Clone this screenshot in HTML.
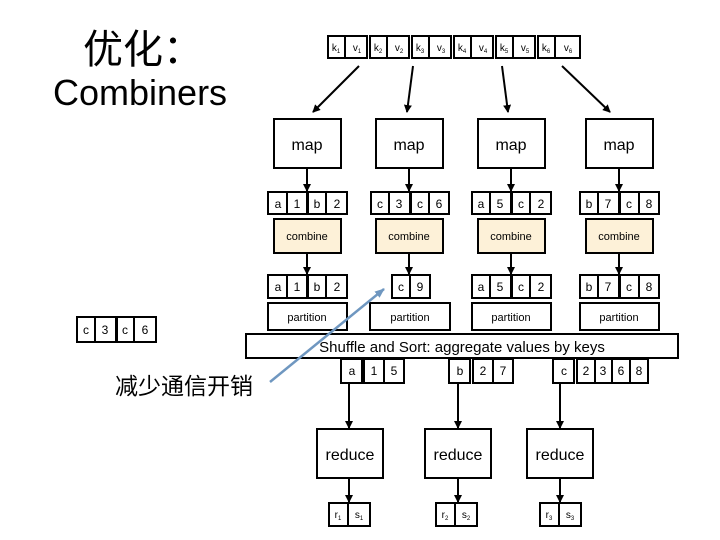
<!DOCTYPE html>
<html><head><meta charset="utf-8"><style>
html,body{margin:0;padding:0;background:#fff;width:720px;height:540px;overflow:hidden}
svg{display:block}
text{font-family:"Liberation Sans","Noto Sans CJK SC",sans-serif;fill:#000}
</style></head><body>
<svg width="720" height="540" viewBox="0 0 720 540" xmlns="http://www.w3.org/2000/svg">
<defs>
<marker id="ah" markerWidth="8" markerHeight="8" refX="7" refY="4" orient="auto" markerUnits="userSpaceOnUse">
<path d="M0,0 L8,4 L0,8 z" fill="#000"/></marker>
<marker id="bh" markerWidth="10" markerHeight="10" refX="9" refY="5" orient="auto" markerUnits="userSpaceOnUse">
<path d="M0,1 L10,5 L0,9 z" fill="#6f97c0"/></marker>
</defs>
<text x="83" y="63" font-size="40" font-family="Noto Sans CJK SC, sans-serif">优化：</text>
<text x="53" y="105" font-size="36">Combiners</text>
<g stroke="#000" stroke-width="2" fill="none">
<!-- top strip -->
<rect x="328" y="36" width="39" height="22"/><line x1="345" y1="36" x2="345" y2="58"/>
<rect x="370" y="36" width="39" height="22"/><line x1="387" y1="36" x2="387" y2="58"/>
<rect x="412" y="36" width="39" height="22"/><line x1="429" y1="36" x2="429" y2="58"/>
<rect x="454" y="36" width="39" height="22"/><line x1="471" y1="36" x2="471" y2="58"/>
<rect x="496" y="36" width="39" height="22"/><line x1="513" y1="36" x2="513" y2="58"/>
<rect x="538" y="36" width="42" height="22"/><line x1="555" y1="36" x2="555" y2="58"/>
<!-- input arrows -->
<line x1="359" y1="66" x2="313" y2="112" marker-end="url(#ah)"/>
<line x1="413" y1="66" x2="407" y2="112" marker-end="url(#ah)"/>
<line x1="502" y1="66" x2="508" y2="112" marker-end="url(#ah)"/>
<line x1="562" y1="66" x2="610" y2="112" marker-end="url(#ah)"/>
<!-- map boxes -->
<rect x="274" y="119" width="67" height="49"/>
<rect x="376" y="119" width="67" height="49"/>
<rect x="478" y="119" width="67" height="49"/>
<rect x="586" y="119" width="67" height="49"/>
<line x1="307" y1="168" x2="307" y2="191" marker-end="url(#ah)"/>
<line x1="409" y1="168" x2="409" y2="191" marker-end="url(#ah)"/>
<line x1="511" y1="168" x2="511" y2="191" marker-end="url(#ah)"/>
<line x1="619" y1="168" x2="619" y2="191" marker-end="url(#ah)"/>
<!-- row1 pairs -->
<rect x="268" y="192" width="39" height="22"/><line x1="287" y1="192" x2="287" y2="214"/>
<rect x="308" y="192" width="39" height="22"/><line x1="326" y1="192" x2="326" y2="214"/>
<rect x="371" y="192" width="39" height="22"/><line x1="389" y1="192" x2="389" y2="214"/>
<rect x="411" y="192" width="38" height="22"/><line x1="429" y1="192" x2="429" y2="214"/>
<rect x="472" y="192" width="39" height="22"/><line x1="490" y1="192" x2="490" y2="214"/>
<rect x="512" y="192" width="39" height="22"/><line x1="530" y1="192" x2="530" y2="214"/>
<rect x="580" y="192" width="39" height="22"/><line x1="598" y1="192" x2="598" y2="214"/>
<rect x="620" y="192" width="39" height="22"/><line x1="639" y1="192" x2="639" y2="214"/>
</g>
<!-- combine -->
<g stroke="#000" stroke-width="2" fill="#fdf1d8">
<rect x="274" y="219" width="67" height="34"/>
<rect x="376" y="219" width="67" height="34"/>
<rect x="478" y="219" width="67" height="34"/>
<rect x="586" y="219" width="67" height="34"/>
</g>
<g stroke="#000" stroke-width="2" fill="none">
<line x1="307" y1="253" x2="307" y2="274" marker-end="url(#ah)"/>
<line x1="409" y1="253" x2="409" y2="274" marker-end="url(#ah)"/>
<line x1="511" y1="253" x2="511" y2="274" marker-end="url(#ah)"/>
<line x1="619" y1="253" x2="619" y2="274" marker-end="url(#ah)"/>
<!-- row2 pairs -->
<rect x="268" y="275" width="39" height="23"/><line x1="287" y1="275" x2="287" y2="298"/>
<rect x="308" y="275" width="39" height="23"/><line x1="326" y1="275" x2="326" y2="298"/>
<rect x="392" y="275" width="38" height="23"/><line x1="410" y1="275" x2="410" y2="298"/>
<rect x="472" y="275" width="39" height="23"/><line x1="490" y1="275" x2="490" y2="298"/>
<rect x="512" y="275" width="39" height="23"/><line x1="530" y1="275" x2="530" y2="298"/>
<rect x="580" y="275" width="39" height="23"/><line x1="598" y1="275" x2="598" y2="298"/>
<rect x="620" y="275" width="39" height="23"/><line x1="639" y1="275" x2="639" y2="298"/>
<!-- partitions -->
<rect x="268" y="303" width="79" height="27"/>
<rect x="370" y="303" width="80" height="27"/>
<rect x="472" y="303" width="79" height="27"/>
<rect x="580" y="303" width="79" height="27"/>
<!-- c3c6 -->
<rect x="77" y="317" width="39" height="25"/><line x1="95" y1="317" x2="95" y2="342"/>
<rect x="117" y="317" width="39" height="25"/><line x1="134" y1="317" x2="134" y2="342"/>
<!-- shuffle -->
<rect x="246" y="334" width="432" height="24" fill="#fff"/>
<!-- output pairs -->
<rect x="341" y="359" width="21" height="24"/>
<rect x="364" y="359" width="40" height="24"/><line x1="384" y1="359" x2="384" y2="383"/>
<rect x="449" y="359" width="21" height="24"/>
<rect x="473" y="359" width="40" height="24"/><line x1="493" y1="359" x2="493" y2="383"/>
<rect x="553" y="359" width="21" height="24"/>
<rect x="577" y="359" width="71" height="24"/><line x1="595" y1="359" x2="595" y2="383"/><line x1="612" y1="359" x2="612" y2="383"/><line x1="630" y1="359" x2="630" y2="383"/>
<!-- reduce -->
<line x1="349" y1="384" x2="349" y2="428" marker-end="url(#ah)"/>
<line x1="458" y1="384" x2="458" y2="428" marker-end="url(#ah)"/>
<line x1="560" y1="384" x2="560" y2="428" marker-end="url(#ah)"/>
<rect x="317" y="429" width="66" height="49"/>
<rect x="425" y="429" width="66" height="49"/>
<rect x="527" y="429" width="66" height="49"/>
<line x1="349" y1="478" x2="349" y2="502" marker-end="url(#ah)"/>
<line x1="458" y1="478" x2="458" y2="502" marker-end="url(#ah)"/>
<line x1="560" y1="478" x2="560" y2="502" marker-end="url(#ah)"/>
<rect x="329" y="503" width="41" height="23"/><line x1="348" y1="503" x2="348" y2="526"/>
<rect x="436" y="503" width="41" height="23"/><line x1="455" y1="503" x2="455" y2="526"/>
<rect x="540" y="503" width="41" height="23"/><line x1="559" y1="503" x2="559" y2="526"/>
</g>
<!-- texts -->
<g font-size="10" text-anchor="middle">
<text x="336" y="51">k<tspan font-size="6" dy="2">1</tspan></text><text x="357" y="51">v<tspan font-size="6" dy="2">1</tspan></text>
<text x="378" y="51">k<tspan font-size="6" dy="2">2</tspan></text><text x="399" y="51">v<tspan font-size="6" dy="2">2</tspan></text>
<text x="420" y="51">k<tspan font-size="6" dy="2">3</tspan></text><text x="441" y="51">v<tspan font-size="6" dy="2">3</tspan></text>
<text x="462" y="51">k<tspan font-size="6" dy="2">4</tspan></text><text x="483" y="51">v<tspan font-size="6" dy="2">4</tspan></text>
<text x="504" y="51">k<tspan font-size="6" dy="2">5</tspan></text><text x="525" y="51">v<tspan font-size="6" dy="2">5</tspan></text>
<text x="546" y="51">k<tspan font-size="6" dy="2">6</tspan></text><text x="568" y="51">v<tspan font-size="6" dy="2">6</tspan></text>
</g>
<g font-size="16" text-anchor="middle">
<text x="307" y="150">map</text><text x="409" y="150">map</text><text x="511" y="150">map</text><text x="619" y="150">map</text>
<text x="350" y="460">reduce</text><text x="458" y="460">reduce</text><text x="560" y="460">reduce</text>
<text x="462" y="352" font-size="15">Shuffle and Sort: aggregate values by keys</text>
</g>
<g font-size="11" text-anchor="middle">
<text x="307" y="240">combine</text><text x="409" y="240">combine</text><text x="511" y="240">combine</text><text x="619" y="240">combine</text>
<text x="307" y="321">partition</text><text x="410" y="321">partition</text><text x="511" y="321">partition</text><text x="619" y="321">partition</text>
</g>
<g font-size="12" text-anchor="middle">
<text x="278" y="208">a</text><text x="297" y="208">1</text><text x="317" y="208">b</text><text x="337" y="208">2</text>
<text x="380" y="208">c</text><text x="399" y="208">3</text><text x="420" y="208">c</text><text x="439" y="208">6</text>
<text x="481" y="208">a</text><text x="500" y="208">5</text><text x="521" y="208">c</text><text x="541" y="208">2</text>
<text x="589" y="208">b</text><text x="608" y="208">7</text><text x="629" y="208">c</text><text x="649" y="208">8</text>
<text x="278" y="291">a</text><text x="297" y="291">1</text><text x="317" y="291">b</text><text x="337" y="291">2</text>
<text x="401" y="291">c</text><text x="420" y="291">9</text>
<text x="481" y="291">a</text><text x="500" y="291">5</text><text x="521" y="291">c</text><text x="541" y="291">2</text>
<text x="589" y="291">b</text><text x="608" y="291">7</text><text x="629" y="291">c</text><text x="649" y="291">8</text>
<text x="86" y="334">c</text><text x="105" y="334">3</text><text x="125" y="334">c</text><text x="145" y="334">6</text>
<text x="352" y="375">a</text><text x="374" y="375">1</text><text x="394" y="375">5</text>
<text x="460" y="375">b</text><text x="483" y="375">2</text><text x="503" y="375">7</text>
<text x="564" y="375">c</text><text x="586" y="375">2</text><text x="603" y="375">3</text><text x="621" y="375">6</text><text x="639" y="375">8</text>
</g>
<g font-size="10" text-anchor="middle">
<text x="338" y="518">r<tspan font-size="6" dy="2">1</tspan></text><text x="359" y="518">s<tspan font-size="6" dy="2">1</tspan></text>
<text x="445" y="518">r<tspan font-size="6" dy="2">2</tspan></text><text x="466" y="518">s<tspan font-size="6" dy="2">2</tspan></text>
<text x="549" y="518">r<tspan font-size="6" dy="2">3</tspan></text><text x="570" y="518">s<tspan font-size="6" dy="2">3</tspan></text>
</g>
<text x="115" y="394" font-size="23" font-family="Noto Sans CJK SC, sans-serif">减少通信开销</text>
<line x1="270" y1="382" x2="384" y2="289" stroke="#6f97c0" stroke-width="2.5" marker-end="url(#bh)"/>
</svg>
</body></html>
